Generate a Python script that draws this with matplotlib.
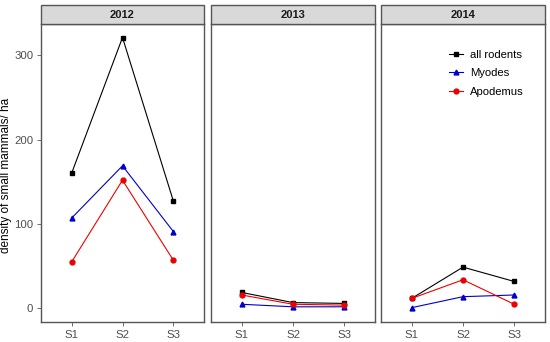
import matplotlib.pyplot as plt
from matplotlib.patches import Rectangle

plt.rcParams['font.family'] = ['Liberation Sans', 'DejaVu Sans']

# data
years = ["2012", "2013", "2014"]
sites = ["S1", "S2", "S3"]
all_rodents = {"2012": [160, 321, 127], "2013": [19, 7, 6], "2014": [12, 49, 32]}
myodes = {"2012": [107, 169, 91], "2013": [5, 2, 2], "2014": [1, 14, 16]}
apodemus = {"2012": [55, 152, 57], "2013": [16, 5, 4], "2014": [12, 34, 5]}

W, H = 550, 342
fig = plt.figure(figsize=(5.5, 3.42), dpi=100)

panel_x = [(41, 204), (211, 375), (381, 545)]
top, bottom, strip_top = 24, 322, 5
border = "#555555"

axes = []
for i, yr in enumerate(years):
    x0, x1 = panel_x[i]
    ax = fig.add_axes([x0 / W, (H - bottom) / H, (x1 - x0) / W, (bottom - top) / H])
    xs = range(len(sites))
    ax.plot(xs, all_rodents[yr], color="black", marker="s", markersize=3.5, lw=0.8, label="all rodents")
    ax.plot(xs, myodes[yr], color="#0000CC", marker="^", markersize=3.5, lw=0.8, label="Myodes")
    ax.plot(xs, apodemus[yr], color="#EE0000", marker="o", markersize=3.5, lw=0.8, label="Apodemus")
    ax.set_xlim(-0.6, 2.6)
    ax.set_ylim(-16, 337)
    ax.set_xticks(list(xs))
    ax.set_xticklabels(sites)
    ax.set_yticks([0, 100, 200, 300])
    ax.tick_params(colors="#555555", labelcolor="#4D4D4D", labelsize=8.2, length=3, width=0.6, pad=2.5)
    for s in ax.spines.values():
        s.set_color(border)
        s.set_linewidth(1.0)
    if i > 0:
        ax.tick_params(axis="y", left=False, labelleft=False)
    # facet strip
    fig.patches.append(Rectangle((x0 / W, (H - top) / H), (x1 - x0) / W, (top - strip_top) / H,
                                 transform=fig.transFigure, facecolor="#D9D9D9",
                                 edgecolor=border, linewidth=1.0))
    fig.text((x0 + x1) / 2 / W, (H - (top + strip_top) / 2) / H, yr, ha="center", va="center",
             fontsize=8, fontweight="bold", color="#1A1A1A")
    axes.append(ax)

fig.text(6 / W, (H - 175) / H, "density of small mammals/ ha", rotation=90,
         ha="center", va="center", fontsize=8.5, color="black")

axes[2].legend(loc="upper left", bbox_to_anchor=(0.35, 0.947), frameon=False, fontsize=8.1,
               handlelength=1.3, labelspacing=0.75, handletextpad=0.6)

fig.savefig("out.png", dpi=100)
